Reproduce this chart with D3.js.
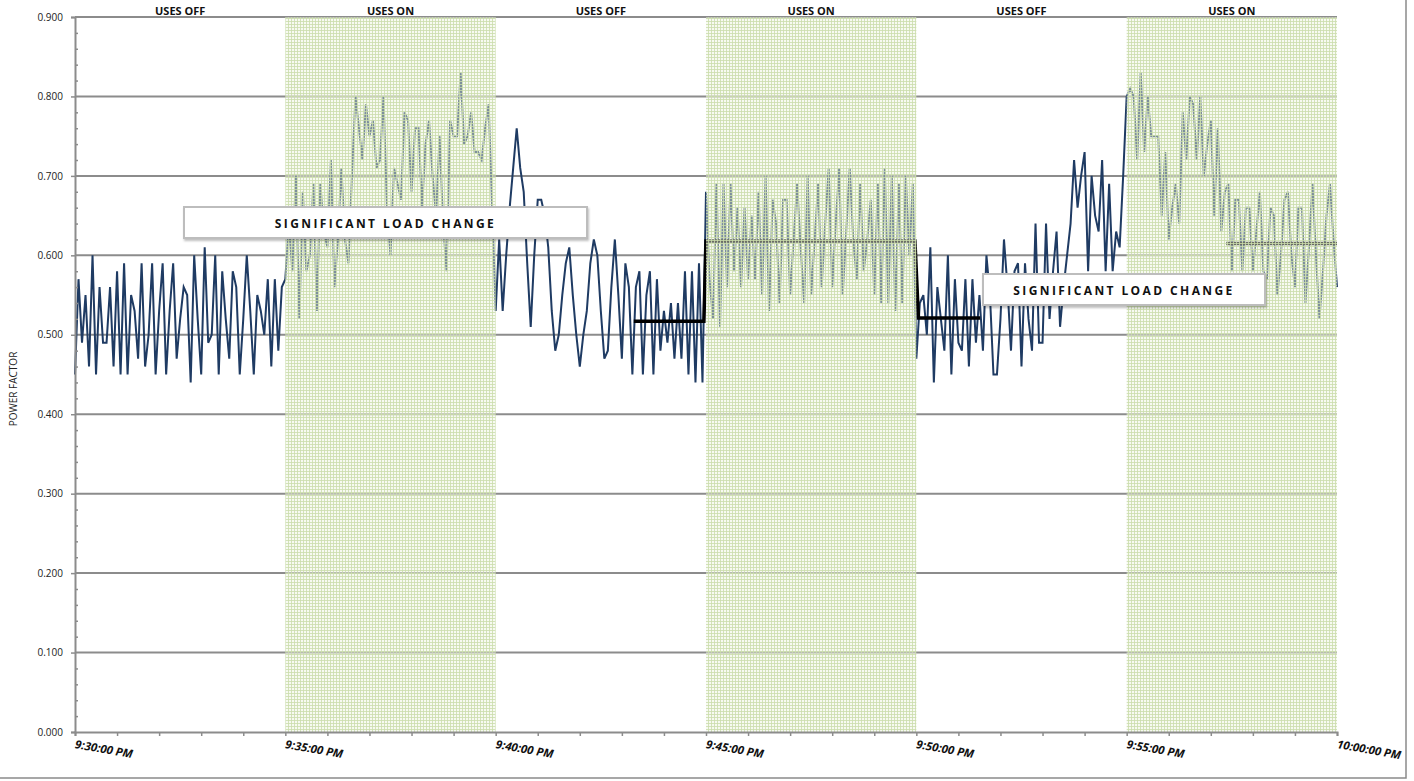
<!DOCTYPE html>
<html>
<head>
<meta charset="utf-8">
<script src="https://cdn.jsdelivr.net/npm/d3@7"></script>
<style>
  body { margin: 0; background: #fff; }
  svg { display: block; font-family: "Open Sans", "Liberation Sans", sans-serif; }
</style>
</head>
<body>
<svg id="chart" width="1414" height="781"></svg>
<script>
// power factor, one reading every 5 seconds, split by 5 minute period
var pfOff1 = [0.45,0.57,0.49,0.55,0.46,0.60,0.45,0.56,0.49,0.49,
    0.56,0.46,0.58,0.45,0.59,0.45,0.55,0.53,0.47,0.59,
    0.46,0.50,0.59,0.45,0.53,0.59,0.45,0.53,0.59,0.47,
    0.52,0.56,0.55,0.44,0.60,0.52,0.45,0.61,0.49,0.50,
    0.60,0.45,0.58,0.52,0.47,0.58,0.56,0.45,0.52,0.60,
    0.53,0.45,0.55,0.53,0.50,0.57,0.46,0.57,0.48,0.56];
var pfOn1 = [0.57,0.64,0.58,0.70,0.52,0.68,0.58,0.60,0.69,0.53,
    0.69,0.63,0.61,0.72,0.56,0.62,0.71,0.62,0.59,0.70,
    0.80,0.76,0.72,0.79,0.75,0.77,0.71,0.72,0.80,0.66,
    0.60,0.71,0.69,0.67,0.78,0.77,0.68,0.76,0.76,0.66,
    0.74,0.77,0.70,0.65,0.75,0.64,0.58,0.77,0.75,0.75,
    0.83,0.74,0.75,0.78,0.73,0.73,0.72,0.76,0.79,0.66];
var pfOff2 = [0.53,0.62,0.53,0.60,0.66,0.71,0.76,0.71,0.68,0.59,
    0.51,0.60,0.67,0.67,0.65,0.61,0.53,0.48,0.50,0.55,
    0.59,0.61,0.55,0.50,0.46,0.50,0.53,0.59,0.62,0.60,
    0.53,0.47,0.48,0.56,0.62,0.55,0.47,0.59,0.56,0.45,
    0.56,0.58,0.45,0.55,0.58,0.45,0.57,0.48,0.53,0.49,
    0.54,0.47,0.54,0.47,0.58,0.45,0.58,0.44,0.59,0.44];
var pfOn2 = [0.68,0.57,0.52,0.69,0.51,0.69,0.56,0.69,0.58,0.66,
    0.56,0.66,0.57,0.65,0.57,0.68,0.55,0.70,0.53,0.67,
    0.64,0.54,0.67,0.67,0.55,0.62,0.69,0.61,0.54,0.70,
    0.55,0.62,0.69,0.56,0.64,0.71,0.56,0.64,0.71,0.55,
    0.63,0.71,0.62,0.57,0.69,0.58,0.62,0.67,0.55,0.69,
    0.54,0.71,0.54,0.70,0.53,0.69,0.54,0.70,0.60,0.69];
var pfOff3 = [0.47,0.54,0.55,0.50,0.61,0.44,0.56,0.52,0.48,0.60,
    0.45,0.57,0.49,0.48,0.57,0.46,0.57,0.49,0.55,0.48,
    0.60,0.55,0.45,0.45,0.52,0.62,0.56,0.48,0.58,0.59,
    0.46,0.59,0.52,0.48,0.64,0.49,0.49,0.64,0.52,0.58,
    0.63,0.51,0.56,0.60,0.64,0.72,0.66,0.70,0.73,0.58,
    0.70,0.65,0.63,0.72,0.58,0.69,0.58,0.63,0.61,0.70];
var pfOn3 = [0.80,0.81,0.80,0.72,0.83,0.73,0.80,0.75,0.75,0.75,
    0.65,0.73,0.62,0.66,0.69,0.64,0.78,0.72,0.80,0.79,
    0.72,0.80,0.70,0.74,0.77,0.65,0.76,0.63,0.68,0.69,
    0.58,0.67,0.67,0.58,0.66,0.66,0.58,0.63,0.68,0.58,
    0.57,0.66,0.65,0.55,0.60,0.67,0.68,0.60,0.56,0.66,
    0.66,0.54,0.61,0.69,0.60,0.52,0.58,0.65,0.69,0.62,
    0.56];

// average lines (step) drawn over the data
var avgTimes = ["21:43:17", "21:44:57", "21:45:00", "21:49:58", "21:50:03", "21:51:31"];
var avgValues = [0.517, 0.517, 0.618, 0.618, 0.521, 0.521];
var avg2Times = ["21:57:22", "22:00:00"];
var avg2Values = [0.615, 0.615];

var periodStarts = ["21:30:00", "21:35:00", "21:40:00", "21:45:00", "21:50:00", "21:55:00"];
var periodLabels = ["USES OFF", "USES ON", "USES OFF", "USES ON", "USES OFF", "USES ON"];
var yTicks = [0, 0.1, 0.2, 0.3, 0.4, 0.5, 0.6, 0.7, 0.8, 0.9];

var parseT = d3.timeParse("%H:%M:%S");
var t0 = parseT("21:30:00");
var t1 = parseT("22:00:00");

var valores = [].concat(pfOff1, pfOn1, pfOff2, pfOn2, pfOff3, pfOn3);
var pontos = valores.map(function (v, i) {
    return { t: d3.timeSecond.offset(t0, i * 5), v: v };
});

var svg = d3.select("#chart");
var x = d3.scaleTime().domain([t0, t1]).range([75, 1337]);
var y = d3.scaleLinear().domain([0, 0.9]).range([732, 17]);

// pattern for the "uses on" bands: see-through cells, green grid
var defs = svg.append("defs");
var pat = defs.append("pattern").attr("id", "verde")
    .attr("width", 3).attr("height", 3).attr("patternUnits", "userSpaceOnUse");
pat.append("rect").attr("width", 3).attr("height", 3)
    .attr("fill", "#eef5e0").attr("fill-opacity", 0.45);
pat.append("rect").attr("width", 3).attr("height", 1)
    .attr("fill", "#cadcab").attr("fill-opacity", 0.8);
pat.append("rect").attr("width", 1).attr("height", 3)
    .attr("fill", "#cadcab").attr("fill-opacity", 0.8);

var sombra = defs.append("filter").attr("id", "sombra")
    .attr("x", "-5%").attr("y", "-20%").attr("width", "110%").attr("height", "150%");
sombra.append("feDropShadow").attr("dx", 1).attr("dy", 2).attr("stdDeviation", 1)
    .attr("flood-color", "#000").attr("flood-opacity", 0.25);

// outer frame
svg.append("rect").attr("x", -2).attr("y", -2).attr("width", 1408).attr("height", 780)
    .attr("fill", "none").attr("stroke", "#8a8a8a").attr("stroke-width", 1.5);

// gridlines
svg.append("g").selectAll("line")
    .data(yTicks.slice(1))
    .enter().append("line")
    .attr("x1", 75).attr("x2", 1337)
    .attr("y1", function (d) { return y(d); })
    .attr("y2", function (d) { return y(d); })
    .attr("stroke", "#8c8c8c").attr("stroke-width", 2);

// data line
var linha = d3.line()
    .x(function (d) { return x(d.t); })
    .y(function (d) { return y(d.v); });

svg.append("path").datum(pontos)
    .attr("d", linha)
    .attr("fill", "none")
    .attr("stroke", "#1f3b63")
    .attr("stroke-width", 2)
    .attr("stroke-linejoin", "miter");

// average lines
var linhaMedia = d3.line()
    .x(function (d) { return x(parseT(d[0])); })
    .y(function (d) { return y(d[1]); });

svg.append("path").datum(d3.zip(avgTimes, avgValues))
    .attr("d", linhaMedia).attr("fill", "none")
    .attr("stroke", "#000").attr("stroke-width", 3.5);
svg.append("path").datum(d3.zip(avg2Times, avg2Values))
    .attr("d", linhaMedia).attr("fill", "none")
    .attr("stroke", "#000").attr("stroke-width", 3.5);

// green bands on top
svg.append("g").selectAll("rect")
    .data(periodStarts.filter(function (d, i) { return i % 2 == 1; }))
    .enter().append("rect")
    .attr("x", function (d) { return x(parseT(d)); })
    .attr("y", y(0.9))
    .attr("width", function (d) { return x(d3.timeMinute.offset(parseT(d), 5)) - x(parseT(d)); })
    .attr("height", y(0) - y(0.9))
    .attr("fill", "url(#verde)");

// band labels
svg.append("g").selectAll("text")
    .data(periodStarts)
    .enter().append("text")
    .attr("x", function (d) {
        var a = parseT(d);
        return (x(a) + x(d3.timeMinute.offset(a, 5))) / 2;
    })
    .attr("y", 15)
    .attr("text-anchor", "middle")
    .attr("font-size", 11)
    .attr("font-weight", "bold")
    .attr("fill", "#111")
    .text(function (d, i) { return periodLabels[i]; });

// axes
var eixoY = svg.append("g").attr("transform", "translate(75,0)")
    .call(d3.axisLeft(y).tickValues(yTicks).tickFormat(d3.format(".3f")).tickSize(4).tickPadding(8));
var menores = d3.range(0, 46).map(function (i) { return i * 0.02; })
    .filter(function (d, i) { return i % 5 != 0; });
svg.append("g").attr("transform", "translate(75,0)")
    .call(d3.axisRight(y).tickValues(menores).tickSize(3).tickFormat(""))
    .select(".domain").remove();

var eixoX = svg.append("g").attr("transform", "translate(0,732)")
    .call(d3.axisBottom(x).ticks(d3.timeMinute.every(1)).tickSize(4)
        .tickFormat(function (d) {
            return d.getMinutes() % 5 == 0 ? d3.timeFormat("%-I:%M:%S %p")(d) : "";
        }));

[eixoY, eixoX].forEach(function (g) {
    g.select(".domain").attr("stroke", "#8c8c8c").attr("stroke-width", 2);
});
svg.selectAll(".tick line").attr("stroke", "#8c8c8c").attr("stroke-width", 1.5);
eixoY.selectAll("text").attr("font-size", 10).attr("fill", "#222")
    .attr("font-family", "Open Sans, sans-serif");
eixoX.selectAll("text")
    .attr("font-size", 11.5).attr("font-weight", "bold").attr("font-style", "italic")
    .attr("fill", "#111").attr("font-family", "Open Sans, sans-serif")
    .attr("text-anchor", "start")
    .attr("y", 0).attr("dy", 0)
    .attr("transform", "translate(-1,16) rotate(10)");

// y title
svg.append("text")
    .attr("transform", "translate(17,389) rotate(-90)")
    .attr("text-anchor", "middle")
    .attr("font-size", 10)
    .attr("fill", "#222")
    .text("POWER FACTOR");

// annotation boxes
var notas = [
    { x: 184, y: 207, w: 403, h: 31 },
    { x: 983, y: 274, w: 282, h: 31 }
];
var gNotas = svg.append("g").selectAll("g").data(notas).enter().append("g");
gNotas.append("rect")
    .attr("x", function (d) { return d.x; })
    .attr("y", function (d) { return d.y; })
    .attr("width", function (d) { return d.w; })
    .attr("height", function (d) { return d.h; })
    .attr("fill", "#fff")
    .attr("stroke", "#bdbdbd")
    .attr("stroke-width", 2)
    .attr("filter", "url(#sombra)");
gNotas.append("text")
    .attr("x", function (d) { return d.x + d.w / 2; })
    .attr("y", function (d) { return d.y + d.h / 2 + 5; })
    .attr("text-anchor", "middle")
    .attr("font-size", 12)
    .attr("font-weight", "bold")
    .attr("letter-spacing", 2.4)
    .attr("fill", "#111")
    .text("SIGNIFICANT LOAD CHANGE");
</script>
</body>
</html>
